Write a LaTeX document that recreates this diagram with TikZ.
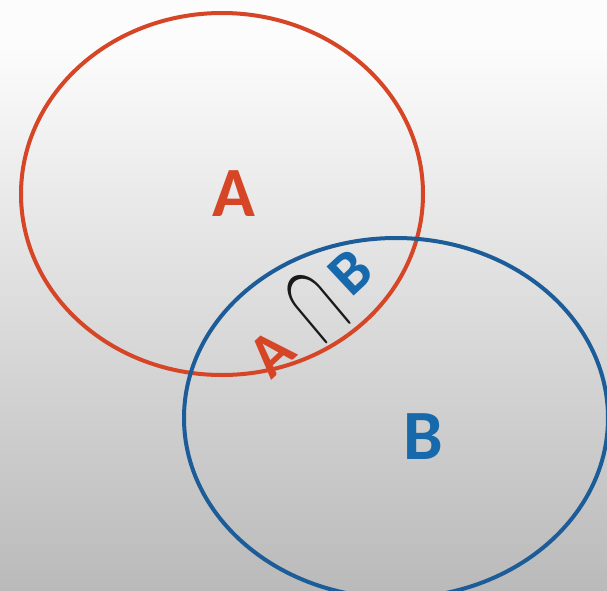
\documentclass[tikz,border=0pt]{standalone}
\usepackage{fontspec}
\setmainfont{Carlito}
\usepackage{graphicx}
\usetikzlibrary{shapes.geometric}
\definecolor{ared}{RGB}{214,70,38}
\definecolor{ringblue}{RGB}{28,92,152}
\definecolor{bblue}{RGB}{24,104,172}
\definecolor{bgtop}{RGB}{252,252,252}
\definecolor{bgbot}{RGB}{186,186,186}
\tikzset{
  setring/.style={ellipse, draw, line width=3pt, inner sep=0pt, outer sep=0pt},
  biglabel/.style={inner sep=0pt, font=\fontsize{53}{53}\selectfont\bfseries},
  smalllabel/.style={inner sep=0pt, rotate=43, font=\fontsize{46}{46}\selectfont\bfseries},
}
\begin{document}
\begin{tikzpicture}[x=0.75pt,y=-0.75pt]
\useasboundingbox (0,0) rectangle (607,590);
\fill[bgtop] (0,0) rectangle (607,45);
\shade[top color=bgtop, bottom color=bgbot] (0,45) rectangle (607,590);
\begin{scope}
\clip (0,0) rectangle (607,590);
\node[setring, draw=ared, minimum width=301.5pt, minimum height=271.5pt] (setA) at (222,194) {};
\node[setring, draw=ringblue, minimum width=318pt, minimum height=270pt] (setB) at (396,418) {};
\end{scope}
\node[biglabel, text=ared] (labA) at (234,194) {A};
\node[biglabel, text=bblue] (labB) at (423,437) {B};
\node[smalllabel, text=ared] (iA) at (272,353) {A};
\node[inner sep=0pt, rotate=40, text=black!90] (icap) at (317,307) {\fontsize{10}{12}\selectfont\scalebox{4.4}[8.8]{$\cap$}};
\node[smalllabel, text=bblue] (iB) at (351,272) {B};
\end{tikzpicture}
\end{document}
